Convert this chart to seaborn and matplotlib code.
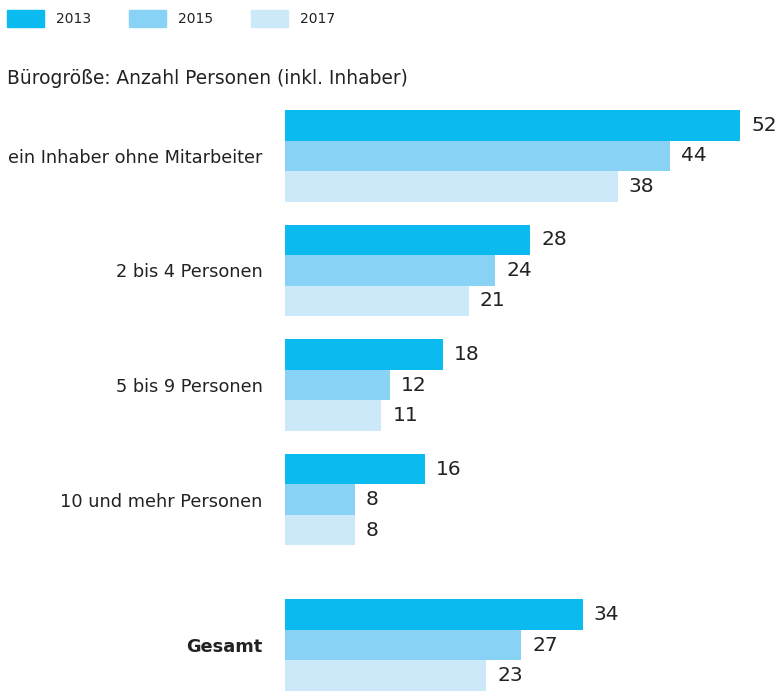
import seaborn as sns
import pandas as pd
import matplotlib.pyplot as plt

# Daten
kategorien = ['ein Inhaber ohne Mitarbeiter', '2 bis 4 Personen', '5 bis 9 Personen',
              '10 und mehr Personen', 'Gesamt']
positionen = [0, 1, 2, 3, 4.27]  # Gesamt etwas abgesetzt
jahre = ['2013', '2015', '2017']
werte_2013 = [52, 28, 18, 16, 34]
werte_2015 = [44, 24, 12, 8, 27]
werte_2017 = [38, 21, 11, 8, 23]
farben = ['#0BBBEF', '#88D2F6', '#CBE9F9']

rows = []
for jahr, werte in zip(jahre, [werte_2013, werte_2015, werte_2017]):
    for pos, w in zip(positionen, werte):
        rows.append({'pos': pos, 'jahr': jahr, 'wert': w})
df = pd.DataFrame(rows)

sns.set_style('white')
plt.rcParams['font.family'] = ['DejaVu Sans']

fig = plt.figure(figsize=(7.82, 6.91), dpi=100)
ax = fig.add_axes([285 / 782, 0, 497 / 782, 581 / 691])

sns.barplot(data=df, x='wert', y='pos', hue='jahr', orient='y', native_scale=True,
            palette=farben, hue_order=jahre, width=0.8, ax=ax, legend=False,
            linewidth=0, saturation=1)

for cont in ax.containers:
    ax.bar_label(cont, padding=8, fontsize=14.5, color='#222222')

ax.set_xlim(0, 56.8)
ax.set_ylim(4.27 + 0.4, -0.4)
ax.set_yticks(positionen)
ax.set_yticklabels(kategorien, fontsize=12.8, color='#222222')
ax.get_yticklabels()[-1].set_fontweight('bold')
ax.tick_params(axis='y', length=0, pad=16)
ax.set_xticks([])
ax.set_xlabel('')
ax.set_ylabel('')
sns.despine(ax=ax, left=True, bottom=True)

# Legende oben
handles = [plt.Rectangle((0, 0), 1, 1, color=c) for c in farben]
fig.legend(handles, jahre, loc='upper left', bbox_to_anchor=(0.0, 1 - 3 / 691), ncol=3,
           frameon=False, fontsize=10, handlelength=2.7, handleheight=1.55,
           handletextpad=0.85, columnspacing=2.7, borderaxespad=0.1,
           labelcolor='#222222')

fig.text(7 / 782, 1 - 78 / 691, 'Bürogröße: Anzahl Personen (inkl. Inhaber)',
         fontsize=13.4, va='center', ha='left', color='#222222')

fig.savefig('out.png', dpi=100)
